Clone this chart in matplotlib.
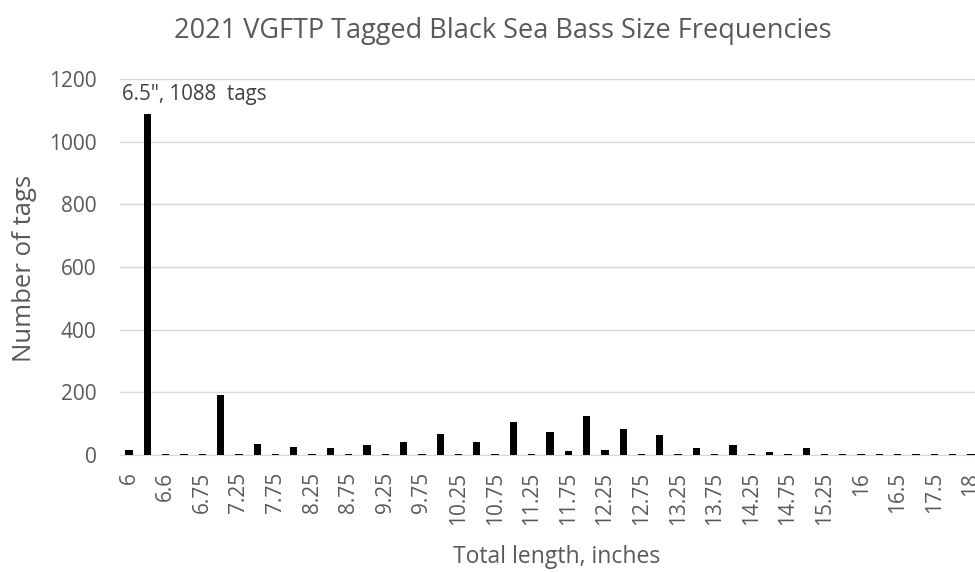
import matplotlib
matplotlib.use("Agg")
import matplotlib.pyplot as plt
import numpy as np

plt.rcParams['font.family'] = ['Open Sans', 'DejaVu Sans']

categories = ["6", "6.5", "6.6", "6.7", "6.75", "7", "7.25", "7.5", "7.75", "8",
              "8.25", "8.5", "8.75", "9", "9.25", "9.5", "9.75", "10", "10.25", "10.5",
              "10.75", "11", "11.25", "11.5", "11.75", "12", "12.25", "12.5", "12.75", "13",
              "13.25", "13.5", "13.75", "14", "14.25", "14.5", "14.75", "15", "15.25", "15.5",
              "16", "16.25", "16.5", "17", "17.5", "17.75", "18"]
tags = [16, 1088, 4, 4, 4, 190, 4, 36, 4, 27,
        4, 21, 4, 32, 4, 43, 4, 67, 4, 43,
        4, 104, 4, 74, 12, 125, 17, 83, 4, 63,
        4, 22, 4, 33, 4, 11, 4, 22, 4, 4,
        4, 4, 4, 4, 4, 4, 4]

text_color = "#595959"
W, H = 975, 572
fig = plt.figure(figsize=(W / 100, H / 100), dpi=100)
ax = fig.add_axes([120 / W, 1 - 455 / H, (980 - 120) / W, (455 - 79) / H])

x = np.arange(len(categories))
ax.bar(x, tags, width=0.4, color="black", zorder=3)

ax.set_xlim(-0.5, len(categories) - 0.5)
ax.set_ylim(0, 1200)
ax.set_yticks(np.arange(0, 1201, 200))
ax.yaxis.grid(True, color="#d9d9d9", linewidth=1, zorder=0)
for s in ["top", "right", "left"]:
    ax.spines[s].set_visible(False)
ax.spines["bottom"].set_color("#d9d9d9")
ax.tick_params(axis="both", length=0, colors=text_color, labelsize=15)
ax.tick_params(axis="y", pad=17)
ax.tick_params(axis="x", pad=12)

ax.set_xticks(x[::2])
ax.set_xticklabels(categories[::2], rotation=90, va="top", ha="center")

fig.text(557 / W, 1 - 557 / H, "Total length, inches", fontsize=16.5, color=text_color,
         ha="center", va="center")
fig.text(25 / W, 1 - 268 / H, "Number of tags", fontsize=18.5, color=text_color,
         ha="center", va="center", rotation=90)
fig.text(503 / W, 1 - 31 / H, "2021 VGFTP Tagged Black Sea Bass Size Frequencies",
         fontsize=19.5, color=text_color, ha="center", va="center")
ax.text(-0.37, 1149, '6.5", 1088  tags', fontsize=14.8, color="#404040",
        ha="left", va="center")

fig.savefig("out.png", dpi=100)
